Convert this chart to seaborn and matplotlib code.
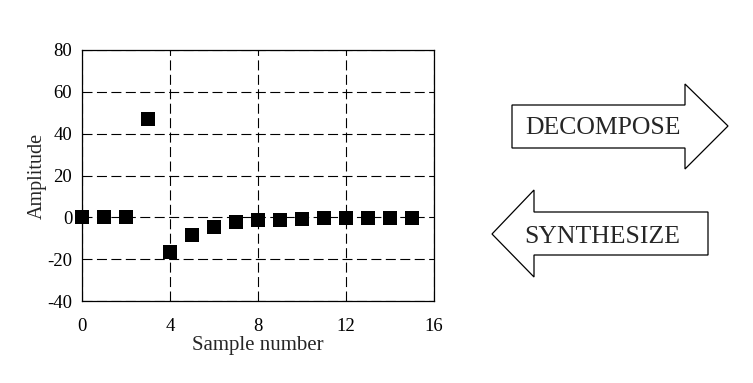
import numpy as np
import pandas as pd
import matplotlib
matplotlib.use("Agg")
import matplotlib.pyplot as plt
import seaborn as sns
from matplotlib.patches import Polygon

# values
sample_number = list(range(16))
amplitude = [0, 0, 0, 47.1, -16.6, -8.5, -4.5, -2.4, -1.4, -1.1, -0.8, -0.5, -0.3, -0.3, -0.2, -0.2]
x_ticks = [0, 4, 8, 12, 16]
y_ticks = [-40, -20, 0, 20, 40, 60, 80]
arrow_labels = ["DECOMPOSE", "SYNTHESIZE"]

sns.set_style("white")
plt.rcParams['font.family'] = ['Liberation Serif', 'DejaVu Serif']
plt.rcParams['axes.unicode_minus'] = False

df = pd.DataFrame({"n": sample_number, "amp": amplitude})

fig = plt.figure(figsize=(7.53, 3.83), dpi=100)
ax = fig.add_axes([82 / 753, 82 / 383, 352 / 753, 251 / 383])

sns.scatterplot(data=df, x="n", y="amp", marker="s", s=115, color="black",
                linewidth=0, ax=ax, zorder=3, clip_on=False)

ax.set_xlim(0, 16)
ax.set_ylim(-40, 80)
ax.set_xticks(x_ticks)
ax.set_yticks(y_ticks)
ax.grid(True, color="black", linestyle=(0, (9, 4)), linewidth=0.8)
for s in ax.spines.values():
    s.set_color("black")
    s.set_linewidth(0.9)
ax.tick_params(direction="out", length=5, width=0.8, color="black",
               labelsize=13.5, labelcolor="black")
ax.tick_params(axis="x", pad=7)
ax.tick_params(axis="y", pad=2)
ax.set_xlabel("Sample number", fontsize=15, labelpad=1)
ax.set_ylabel("Amplitude", fontsize=14.5, labelpad=0)

# arrow panel drawn in pixel coordinates
ov = fig.add_axes([0, 0, 1, 1])
ov.set_xlim(0, 753)
ov.set_ylim(383, 0)
ov.axis("off")

right_arrow = [(512, 105), (685, 105), (685, 84), (728, 126), (685, 169), (685, 148), (512, 148)]
left_arrow = [(708, 212), (534, 212), (534, 190), (492, 234), (534, 277), (534, 255), (708, 255)]
ov.add_patch(Polygon(right_arrow, closed=True, facecolor="white", edgecolor="black", linewidth=0.9))
ov.add_patch(Polygon(left_arrow, closed=True, facecolor="white", edgecolor="black", linewidth=0.9))
ov.text(603, 128, arrow_labels[0], ha="center", va="center", fontsize=18.5)
ov.text(602, 237, arrow_labels[1], ha="center", va="center", fontsize=18.5)

fig.savefig("out.png", dpi=100)
